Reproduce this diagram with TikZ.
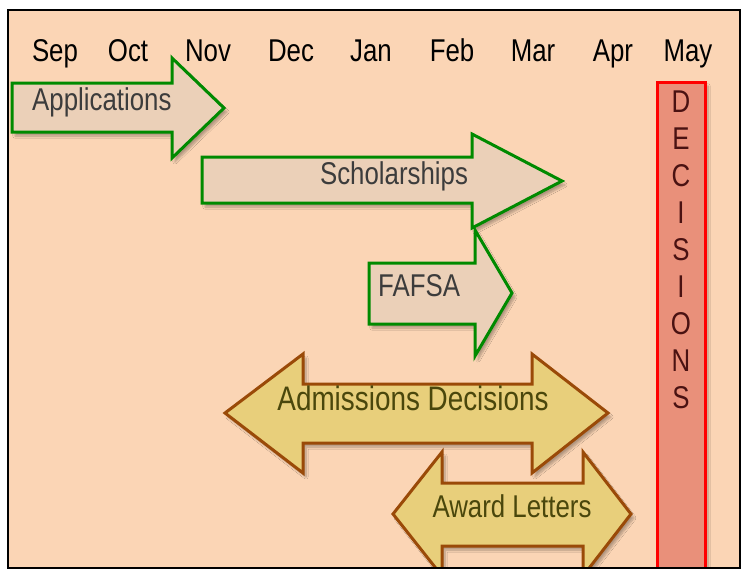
\documentclass[tikz,border=0pt]{standalone}
\usepackage{fontspec}
\setmainfont{Liberation Sans}[FakeStretch=0.82]
\usetikzlibrary{shadows.blur}

\definecolor{peach}{HTML}{FBD5B5}
\definecolor{tanfill}{HTML}{EBD0B8}
\definecolor{arrowgreen}{HTML}{008A00}
\definecolor{goldfill}{HTML}{E8CF7B}
\definecolor{rust}{HTML}{9A4A08}
\definecolor{salmon}{HTML}{E9907A}
\definecolor{textgray}{HTML}{3C3C3C}
\definecolor{olive}{HTML}{4A470C}
\definecolor{maroon}{HTML}{4A1212}

\tikzstyle{every picture} = [x=1pt,y=-1pt]
\tikzstyle{every node} = [font=\fontsize{31.5}{38}\selectfont, inner sep=0pt]
\tikzstyle{soft shadow} = [blur shadow={shadow xshift=3pt, shadow yshift=-4pt, shadow opacity=30, shadow blur steps=8}]
\tikzstyle{green arrow} = [draw=arrowgreen, line width=3pt, fill=tanfill, line join=miter, soft shadow]
\tikzstyle{gold arrow} = [draw=rust, line width=3pt, fill=goldfill, line join=miter, soft shadow]

\begin{document}
\begin{tikzpicture}
            \useasboundingbox (0,0) rectangle (742,571);
            \fill[peach] (8,10) rectangle (740,568);

            \begin{scope}
            \clip (8,10) rectangle (740,568);

            % months along the top
            \foreach \m/\x in {Sep/55,Oct/128,Nov/208,Dec/291,Jan/371,Feb/452,Mar/533,Apr/613,May/688}
                \node (\m) at (\x,61) [anchor=base] {\m};

            % single arrows
            \draw[green arrow] (12,83) -- (172,83) -- (172,58) -- (224,108) -- (172,158) -- (172,132) -- (12,132) -- cycle;
            \draw[green arrow] (202,157) -- (472,157) -- (472,134) -- (562,181) -- (472,228) -- (472,203) -- (202,203) -- cycle;
            \draw[green arrow] (369,263) -- (475,263) -- (475,230) -- (512,293) -- (475,356) -- (475,324) -- (369,324) -- cycle;

            % double arrows
            \draw[gold arrow] (225,413) -- (303,354) -- (303,384) -- (532,384) -- (532,354) -- (608,413)
                -- (532,473) -- (532,443) -- (303,443) -- (303,473) -- cycle;
            \draw[gold arrow] (393,514) -- (442,452) -- (442,483) -- (583,483) -- (583,452) -- (631,514)
                -- (583,576) -- (583,546) -- (442,546) -- (442,576) -- cycle;

            % decisions bar
            \draw[draw=red, line width=3pt, fill=salmon, soft shadow] (657,82) rectangle (705,590);
            \end{scope}

            \node (applications) at (32,102) [anchor=west, text=textgray] {Applications};
            \node (scholarships) at (394,176) [text=textgray] {Scholarships};
            \node (fafsa) at (378,286) [anchor=west, text=textgray] {FAFSA};
            \node (admissions) at (413,398) [text=olive, font=\fontsize{34}{40}\selectfont] {Admissions Decisions};
            \node (award) at (512,506) [text=olive] {Award Letters};

            \foreach \ch [count=\i] in {D,E,C,I,S,I,O,N,S}
                \node (dec \i) at (681,65+37*\i) [text=maroon] {\ch};

            \draw[line width=2.5pt] (8,10) rectangle (740,568);
\end{tikzpicture}
\end{document}
